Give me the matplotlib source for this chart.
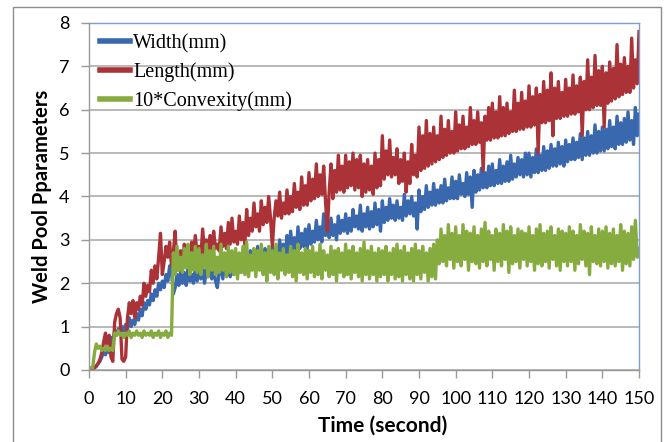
from matplotlib import pyplot as plt
import matplotlib.patches as mpatches
import numpy as np

# sampled every half second, t = 0 .. 150 (one row = 10 s)
time_s = [i * 0.5 for i in range(301)]

width_mm = [
    0.05, 0.05, 0.05, 0.05, 0.08, 0.15, 0.2, 0.3, 0.45, 0.35, 0.5, 0.4, 0.75, 0.6, 0.9, 0.8, 0.95, 0.85, 1.0, 0.9,
    1.05, 0.95, 1.2, 1.0, 1.15, 1.05, 1.3, 1.15, 1.4, 1.25, 1.55, 1.4, 1.6, 1.5, 1.75, 1.6, 1.85, 1.7, 2.0, 1.85,
    2.05, 1.9, 2.2, 2.05, 2.4, 2.25, 1.75, 1.9, 2.2, 1.95, 2.3, 2.0, 2.25, 1.95, 2.35, 2.05, 2.2, 2.0, 2.4, 2.05,
    2.35, 2.1, 2.45, 2.0, 2.3, 2.15, 2.4, 2.1, 2.35, 2.05, 1.9, 2.25, 2.4, 2.1, 2.45, 2.2, 2.5, 2.15, 2.4, 2.2,
    2.55, 2.2, 2.45, 2.25, 2.6, 2.3, 2.5, 2.25, 2.75, 2.35, 2.6, 2.3, 2.85, 2.4, 2.7, 2.35, 2.8, 2.45, 2.7, 2.4,
    2.85, 2.5, 2.75, 2.55, 3.0, 2.6, 2.9, 2.55, 3.1, 2.7, 3.2, 2.75, 3.05, 2.7, 3.3, 2.8, 3.15, 2.85, 3.25, 2.8,
    3.35, 2.9, 3.2, 2.95, 3.45, 3.0, 3.3, 2.95, 3.6, 3.1, 3.4, 3.05, 3.5, 3.1, 3.35, 3.0, 3.55, 3.15, 3.45, 3.2,
    3.6, 3.15, 3.5, 3.2, 3.7, 3.3, 3.55, 3.25, 3.8, 3.2, 3.6, 3.3, 3.75, 3.25, 3.65, 3.3, 3.85, 3.35, 3.7, 3.2,
    3.9, 3.4, 3.75, 3.45, 3.95, 3.5, 3.8, 3.45, 3.9, 3.5, 3.75, 3.45, 4.05, 3.55, 3.9, 3.6, 4.0, 3.55, 3.85, 3.25,
    4.15, 3.65, 4.0, 3.7, 4.25, 3.75, 4.1, 3.8, 4.3, 3.8, 4.15, 3.85, 4.25, 3.85, 4.4, 3.9, 4.2, 3.95, 4.45, 3.95,
    4.35, 3.95, 4.5, 4.05, 4.3, 4.0, 4.55, 4.05, 4.45, 3.75, 4.6, 4.1, 4.5, 4.15, 4.65, 4.2, 4.55, 4.2, 4.7, 4.25,
    4.75, 4.25, 4.6, 4.3, 4.85, 4.3, 4.7, 4.35, 4.8, 4.35, 4.95, 4.4, 4.75, 4.45, 4.9, 4.5, 4.85, 4.45, 5.0, 4.5,
    5.0, 4.45, 4.9, 4.55, 5.1, 4.55, 4.95, 4.6, 5.15, 4.6, 5.05, 4.65, 5.2, 4.7, 5.1, 4.7, 5.25, 4.75, 5.15, 4.7,
    5.3, 4.8, 5.2, 4.85, 5.35, 4.85, 5.25, 4.9, 5.45, 4.85, 5.35, 4.95, 5.5, 4.95, 5.4, 5.0, 5.65, 5.0, 5.5, 5.05,
    5.6, 5.05, 5.55, 5.1, 5.75, 5.15, 5.6, 5.1, 5.85, 5.2, 5.7, 5.2, 5.8, 5.25, 5.95, 5.3, 5.75, 5.2, 6.05, 5.4,
    5.9,
]

length_mm = [
    0.0, 0.02, 0.05, 0.05, 0.1, 0.15, 0.25, 0.4, 0.65, 0.85, 0.5, 0.8, 0.3, 0.2, 1.1, 1.3, 1.4, 1.2, 0.25, 0.2,
    0.3, 1.2, 1.55, 1.3, 1.6, 1.2, 1.55, 1.4, 1.7, 1.5, 2.0, 1.7, 1.95, 1.8, 2.3, 2.0, 2.4, 2.1, 2.6, 3.15,
    2.2, 2.5, 2.85, 2.6, 2.95, 2.4, 2.7, 3.2, 2.3, 2.6, 2.75, 2.45, 2.9, 2.55, 2.8, 2.5, 2.95, 2.6, 3.1, 2.65,
    2.85, 2.6, 3.25, 2.7, 3.0, 2.75, 3.1, 2.7, 3.2, 2.8, 2.9, 2.75, 3.3, 2.85, 3.15, 2.8, 3.4, 2.9, 3.5, 2.95,
    3.2, 2.9, 3.55, 3.0, 3.4, 2.9, 3.7, 3.1, 3.5, 3.2, 3.85, 3.3, 3.6, 3.2, 3.9, 3.35, 3.75, 3.4, 4.0, 3.5,
    2.85, 3.5, 3.9, 3.55, 4.1, 3.5, 3.85, 3.6, 4.15, 3.6, 4.0, 3.65, 4.3, 3.75, 4.1, 3.7, 4.45, 3.8, 4.25, 3.8,
    4.55, 3.9, 4.4, 3.95, 4.75, 4.0, 4.5, 4.05, 4.7, 3.9, 3.2, 4.1, 4.75, 3.95, 4.6, 4.1, 4.95, 4.15, 4.7, 4.1,
    4.95, 4.2, 4.8, 4.25, 5.0, 4.15, 4.85, 4.2, 4.95, 4.0, 4.75, 4.1, 4.85, 4.15, 4.7, 4.05, 5.0, 4.2, 4.85, 4.25,
    5.4, 4.4, 5.05, 4.5, 5.3, 4.45, 4.9, 4.5, 5.1, 4.3, 4.85, 4.35, 5.0, 4.1, 4.8, 4.3, 5.2, 4.5, 4.95, 4.45,
    5.6, 4.6, 5.4, 4.65, 5.75, 4.7, 5.45, 4.75, 5.6, 4.8, 5.4, 4.85, 5.85, 4.9, 5.55, 4.95, 5.75, 5.0, 5.5, 5.0,
    5.95, 5.05, 5.65, 5.1, 5.85, 5.1, 5.6, 5.15, 6.05, 5.2, 5.75, 5.2, 5.95, 5.25, 5.7, 4.6, 5.85, 5.3, 6.05, 5.3,
    6.15, 5.35, 5.95, 5.35, 6.3, 5.4, 6.05, 5.4, 6.15, 5.45, 5.95, 5.5, 6.45, 5.5, 6.15, 5.55, 6.4, 5.55, 6.2, 5.6,
    6.55, 5.6, 6.3, 5.65, 6.5, 5.0, 6.35, 5.7, 6.65, 5.7, 6.45, 5.75, 6.85, 5.4, 6.5, 5.8, 6.65, 5.8, 6.4, 5.85,
    6.7, 5.85, 6.5, 5.9, 6.8, 5.9, 6.55, 5.95, 6.75, 5.4, 6.65, 6.0, 7.15, 6.0, 6.75, 6.05, 7.25, 6.1, 6.9, 6.1,
    7.0, 5.6, 6.85, 6.15, 7.1, 6.2, 6.95, 6.25, 7.5, 6.3, 7.05, 6.35, 7.2, 6.4, 7.0, 6.4, 7.65, 6.5, 7.15, 6.6,
    7.8,
]

convexity_x10 = [
    0.05, 0.05, 0.05, 0.4, 0.6, 0.5, 0.55, 0.45, 0.5, 0.45, 0.55, 0.45, 0.5, 0.45, 0.85, 0.8, 0.9, 0.8, 0.85, 0.75,
    0.85, 0.8, 0.9, 0.75, 0.85, 0.8, 0.9, 0.8, 0.85, 0.75, 0.9, 0.8, 0.85, 0.8, 0.9, 0.75, 0.85, 0.8, 0.9, 0.75,
    0.85, 0.8, 0.9, 0.75, 0.85, 0.8, 2.7, 2.2, 2.85, 2.3, 2.6, 2.25, 2.8, 2.35, 2.9, 2.2, 2.7, 2.3, 2.85, 2.25,
    2.8, 2.2, 2.65, 2.35, 2.9, 2.15, 2.75, 2.3, 2.85, 2.2, 2.6, 2.25, 2.9, 2.3, 2.7, 2.15, 2.85, 2.25, 2.75, 2.2,
    2.8, 2.1, 2.7, 2.25, 2.85, 2.2, 2.95, 2.15, 2.65, 2.3, 2.8, 2.15, 2.75, 2.3, 2.9, 2.2, 2.7, 2.05, 2.85, 2.25,
    2.75, 2.2, 2.9, 2.1, 2.7, 2.3, 2.8, 2.2, 2.65, 2.25, 2.85, 2.15, 2.75, 2.05, 2.9, 2.25, 2.7, 2.2, 2.8, 2.1,
    2.75, 2.25, 2.85, 2.15, 2.7, 2.2, 2.9, 2.1, 2.75, 2.3, 2.65, 2.15, 2.85, 2.2, 2.75, 2.05, 2.8, 2.25, 2.7, 2.15,
    2.9, 2.2, 2.75, 2.1, 2.85, 2.25, 2.7, 2.15, 2.8, 2.05, 2.95, 2.2, 2.75, 2.1, 2.85, 2.2, 2.7, 2.05, 2.8, 2.15,
    2.75, 2.2, 2.85, 2.05, 2.7, 2.2, 2.8, 2.1, 2.9, 2.15, 2.75, 2.05, 2.85, 2.2, 2.7, 2.1, 2.8, 2.05, 2.9, 2.2,
    2.75, 2.1, 2.85, 2.25, 2.7, 2.05, 2.8, 2.15, 2.9, 2.1, 3.0, 2.45, 3.25, 2.5, 3.1, 2.4, 3.35, 2.55, 3.15, 2.35,
    3.3, 2.5, 3.1, 2.4, 3.35, 2.55, 3.2, 2.3, 3.15, 2.5, 3.3, 2.45, 3.1, 2.35, 3.25, 2.5, 3.4, 2.4, 3.2, 2.55,
    3.1, 2.3, 3.25, 2.5, 3.15, 2.4, 3.35, 2.55, 3.2, 2.25, 3.3, 2.45, 3.1, 2.5, 3.25, 2.35, 3.2, 2.55, 3.15, 2.4,
    3.3, 2.5, 3.1, 2.3, 3.25, 2.45, 3.35, 2.4, 3.15, 2.5, 3.2, 2.35, 3.3, 2.55, 3.1, 2.4, 3.25, 2.3, 3.2, 2.5,
    3.15, 2.4, 3.3, 2.5, 3.2, 2.3, 3.1, 2.45, 3.35, 2.55, 3.2, 2.4, 3.15, 2.2, 3.3, 2.5, 3.1, 2.45, 3.25, 2.4,
    3.2, 2.5, 3.3, 2.35, 3.15, 2.45, 3.25, 2.4, 3.1, 2.5, 3.35, 2.3, 3.2, 2.45, 3.15, 2.4, 3.3, 2.55, 3.45, 2.6,
    2.8,
]

series_names = ['Width(mm)', 'Length(mm)', '10*Convexity(mm)']
series_colors = ['#3A68AE', '#AB3338', '#86AC40']


def main():
	fig = plt.figure(figsize=(6.66, 4.42), dpi=100)
	ax = fig.add_axes([0.1336, 0.1629, 0.8259, 0.7851])

	# outer chart border (runs off the bottom of the picture)
	fig.patches.append(mpatches.Rectangle((13 / 666., -0.05), 648 / 666., 1.05 - 7 / 442.,
	                                      transform=fig.transFigure, fill=False,
	                                      edgecolor='#8C8C8C', linewidth=1.0))

	t = np.array(time_s)
	for vals, name, col in zip([width_mm, length_mm, convexity_x10], series_names, series_colors):
		ax.plot(t, vals, color=col, linewidth=2.4, label=name)

	ax.set_xlim(0, 150)
	ax.set_ylim(0, 8)
	ax.set_xticks(range(0, 151, 10))
	ax.set_yticks(range(0, 9))

	ax.yaxis.grid(True, color='#A6A6A6', linewidth=1.1)
	ax.set_axisbelow(True)

	ax.spines['top'].set_color('#7F9DCF')
	ax.spines['right'].set_color('#7F9DCF')
	ax.spines['left'].set_color('#999999')
	ax.spines['bottom'].set_color('#999999')
	for s in ax.spines.values():
		s.set_linewidth(1.0)

	ax.tick_params(axis='both', direction='out', length=6, width=1.0, color='#999999',
	               labelsize=13)
	ax.tick_params(axis='x', pad=9)
	ax.tick_params(axis='y', pad=8)
	for lab in ax.get_xticklabels() + ax.get_yticklabels():
		lab.set_family('Lato')

	ax.set_xlabel('Time (second)', fontsize=15, family='Lato', fontweight='bold')
	ax.xaxis.set_label_coords(0.534, -0.133)
	ax.set_ylabel('Weld Pool Pparameters', fontsize=14.5, family='Lato', fontweight='bold')
	ax.yaxis.set_label_coords(-0.068, 0.5)

	leg = ax.legend(loc='upper left', frameon=False, handlelength=1.5, handletextpad=0.15,
	                labelspacing=0.45, borderaxespad=0.15,
	                prop={'family': 'Liberation Serif', 'size': 14.5})
	for h in leg.get_lines():
		h.set_linewidth(4)

	fig.savefig('out.png', dpi=100)


if __name__ == '__main__':
	main()
